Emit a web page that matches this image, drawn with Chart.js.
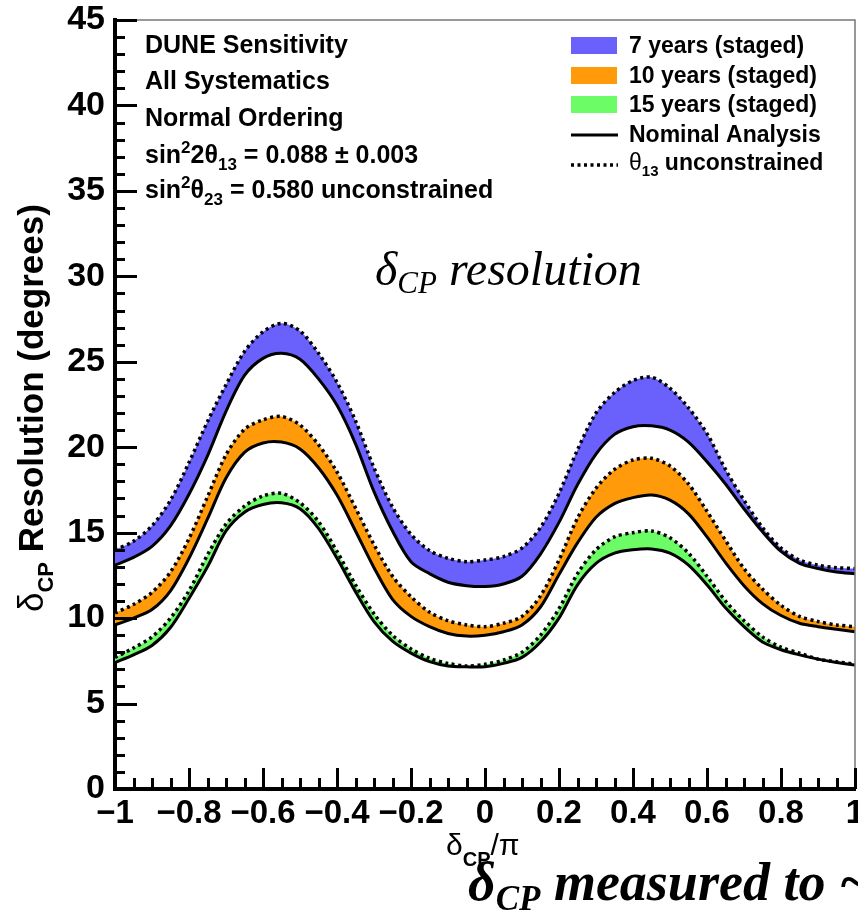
<!DOCTYPE html>
<html>
<head>
<meta charset="utf-8">
<script src="https://cdn.jsdelivr.net/npm/chart.js@4.4.1/dist/chart.umd.min.js"></script>
<style>
  html, body { margin: 0; padding: 0; background: #fff; }
  canvas { display: block; }
</style>
</head>
<body>
<canvas id="chart" width="858" height="913"></canvas>
<script>
// delta_CP / pi sample points, every 0.05
const deltaCP = [-1, -0.95, -0.9, -0.85, -0.8, -0.75, -0.7, -0.65, -0.6, -0.55, -0.5, -0.45, -0.4, -0.35, -0.3, -0.25, -0.2, -0.15, -0.1, -0.05,
    0, 0.05, 0.1, 0.15, 0.2, 0.25, 0.3, 0.35, 0.4, 0.45, 0.5, 0.55, 0.6, 0.65, 0.7, 0.75, 0.8, 0.85, 0.9, 0.95, 1];

// resolution in degrees, nominal analysis (solid)
const nominal7 = [13.1, 13.55, 14.2, 15.4, 17.25, 19.5, 22.1, 24.2, 25.2, 25.5, 25.15, 24.0, 22.45, 20.2, 17.4, 15.1, 13.3, 12.6, 12.1, 11.9,
    11.85, 12.0, 12.45, 13.75, 15.6, 17.8, 19.6, 20.75, 21.2, 21.25, 21.0, 20.3, 19.15, 17.85, 16.4, 15.05, 13.9, 13.2, 12.9, 12.7, 12.6];
const nominal10 = [9.6, 10.0, 10.5, 11.6, 13.5, 15.8, 18.2, 19.7, 20.25, 20.3, 19.9, 18.8, 17.2, 15.1, 12.95, 11.1, 10.1, 9.5, 9.1, 8.95,
    9.0, 9.2, 9.6, 10.65, 12.55, 14.4, 15.9, 16.7, 17.05, 17.2, 16.9, 16.1, 14.75, 13.25, 11.9, 10.85, 10.15, 9.7, 9.5, 9.35, 9.2];
const nominal15 = [7.4, 7.85, 8.4, 9.45, 11.15, 13.0, 15.1, 16.2, 16.65, 16.75, 16.4, 15.25, 13.5, 11.55, 9.8, 8.65, 7.95, 7.45, 7.2, 7.15,
    7.15, 7.35, 7.7, 8.6, 10.0, 11.95, 13.2, 13.8, 14.0, 14.05, 13.8, 13.1, 11.95, 10.6, 9.5, 8.6, 8.15, 7.85, 7.6, 7.4, 7.25];

// theta13 unconstrained (dotted)
const free7 = [14.0, 14.5, 15.4, 16.9, 19.1, 21.5, 23.65, 25.6, 26.75, 27.25, 26.8, 25.5, 23.8, 21.55, 18.8, 16.5, 14.9, 13.95, 13.5, 13.3,
    13.4, 13.6, 14.1, 15.3, 17.3, 19.85, 22.0, 23.2, 23.9, 24.1, 23.45, 22.3, 20.8, 18.7, 16.9, 15.3, 14.1, 13.4, 13.1, 12.95, 12.9];
const free10 = [10.3, 10.8, 11.5, 12.7, 14.65, 17.1, 19.55, 21.05, 21.6, 21.8, 21.3, 20.15, 18.55, 16.45, 14.3, 12.45, 11.25, 10.35, 9.85, 9.6,
    9.5, 9.7, 10.1, 11.3, 13.4, 15.85, 17.6, 18.7, 19.25, 19.35, 18.9, 17.85, 16.25, 14.55, 12.9, 11.7, 10.75, 10.1, 9.8, 9.6, 9.5];
const free15 = [7.7, 8.25, 8.9, 10.0, 11.6, 13.7, 15.5, 16.55, 17.15, 17.3, 16.75, 15.65, 13.9, 11.95, 10.25, 9.0, 8.2, 7.65, 7.35, 7.2,
    7.3, 7.55, 8.0, 9.0, 10.55, 12.6, 14.0, 14.75, 15.0, 15.1, 14.7, 13.8, 12.45, 11.0, 9.85, 8.9, 8.3, 7.95, 7.6, 7.45, 7.3];

const xTicks = [-1, -0.8, -0.6, -0.4, -0.2, 0, 0.2, 0.4, 0.6, 0.8, 1];
const yTicks = [0, 5, 10, 15, 20, 25, 30, 35, 40, 45];

const bandLabels = ['7 years (staged)', '10 years (staged)', '15 years (staged)'];
const bandColors = ['#6a60fc', '#ff9a0a', '#6cfc66'];

const SANS = '"Liberation Sans", Arial, Helvetica, sans-serif';
const SERIF = '"Liberation Serif", "Times New Roman", serif';

const pts = arr => arr.map((y, i) => ({ x: deltaCP[i], y: y }));

const solid = arr => ({
    data: pts(arr),
    borderColor: '#000',
    borderWidth: 3,
    pointRadius: 0,
    tension: 0.3,
    fill: false
});

const dotted = (arr, target, color) => ({
    data: pts(arr),
    borderColor: '#000',
    borderWidth: 3.5,
    borderDash: [3, 3.5],
    pointRadius: 0,
    tension: 0.3,
    fill: target,
    backgroundColor: color
});

// draws a run of text pieces, each with its own font and vertical shift
function drawRun(ctx, parts, x, y) {
    let cx = x;
    parts.forEach(p => {
        ctx.font = p.font;
        ctx.fillText(p.text, cx, y + (p.dy || 0));
        cx += ctx.measureText(p.text).width;
    });
    return cx - x;
}

const decorations = {
    id: 'decorations',
    afterDraw(chart) {
        const ctx = chart.ctx;
        const area = chart.chartArea;
        const xs = chart.scales.x;
        const ys = chart.scales.y;
        ctx.save();

        // top and right frame
        ctx.strokeStyle = '#777';
        ctx.lineWidth = 1.5;
        ctx.beginPath();
        ctx.moveTo(area.left, area.top);
        ctx.lineTo(area.right, area.top);
        ctx.lineTo(area.right, area.bottom);
        ctx.stroke();

        // inward ticks
        ctx.strokeStyle = '#000';
        ctx.lineWidth = 3;
        ctx.beginPath();
        for (let i = 0; i <= 40; i++) {
            const v = -1 + i * 0.05;
            const px = Math.round(xs.getPixelForValue(v)) + 0.5;
            const len = i % 4 === 0 ? 21 : 11;
            ctx.moveTo(px, area.bottom);
            ctx.lineTo(px, area.bottom - len);
        }
        for (let v = 0; v <= 45; v++) {
            const py = Math.round(ys.getPixelForValue(v)) + 0.5;
            const len = v % 5 === 0 ? 22 : 10;
            ctx.moveTo(area.left, py);
            ctx.lineTo(area.left + len, py);
        }
        ctx.stroke();

        ctx.fillStyle = '#000';
        ctx.textBaseline = 'alphabetic';
        ctx.textAlign = 'left';

        // info block
        const B = 'bold 25px ' + SANS;
        const Bs = 'bold 17px ' + SANS;
        ctx.font = B;
        ctx.fillText('DUNE Sensitivity', 145, 53);
        ctx.fillText('All Systematics', 145, 89);
        ctx.fillText('Normal Ordering', 145, 126);
        drawRun(ctx, [
            { text: 'sin', font: B },
            { text: '2', font: Bs, dy: -10 },
            { text: '2\u03b8', font: B },
            { text: '13', font: Bs, dy: 7 },
            { text: ' = 0.088 \u00b1 0.003', font: B }
        ], 145, 163);
        drawRun(ctx, [
            { text: 'sin', font: B },
            { text: '2', font: Bs, dy: -10 },
            { text: '\u03b8', font: B },
            { text: '23', font: Bs, dy: 7 },
            { text: ' = 0.580 unconstrained', font: B }
        ], 145, 198);

        // legend
        const L = 'bold 23px ' + SANS;
        const Ls = 'bold 15px ' + SANS;
        const rows = [53, 83, 112, 142, 170];
        bandLabels.forEach((lbl, i) => {
            ctx.fillStyle = bandColors[i];
            ctx.fillRect(571, rows[i] - 16, 46, 17);
            ctx.fillStyle = '#000';
            ctx.font = L;
            ctx.fillText(lbl, 629, rows[i]);
        });
        ctx.lineWidth = 3;
        ctx.beginPath();
        ctx.moveTo(571, rows[3] - 7);
        ctx.lineTo(618, rows[3] - 7);
        ctx.stroke();
        ctx.setLineDash([3, 3.5]);
        ctx.lineWidth = 3.5;
        ctx.beginPath();
        ctx.moveTo(571, rows[4] - 5);
        ctx.lineTo(618, rows[4] - 5);
        ctx.stroke();
        ctx.setLineDash([]);
        ctx.font = L;
        ctx.fillText('Nominal Analysis', 629, rows[3]);
        drawRun(ctx, [
            { text: '\u03b8', font: '23px ' + SANS },
            { text: '13', font: Ls, dy: 6 },
            { text: ' unconstrained', font: L }
        ], 629, rows[4]);

        // plot label
        const I = 'italic 48px ' + SERIF;
        drawRun(ctx, [
            { text: '\u03b4', font: I },
            { text: 'CP', font: 'italic 31px ' + SERIF, dy: 8 },
            { text: ' resolution', font: I }
        ], 375, 285);

        // x axis title
        drawRun(ctx, [
            { text: '\u03b4', font: '30px ' + SANS },
            { text: 'CP', font: 'bold 20px ' + SANS, dy: 11 },
            { text: '/\u03c0', font: '30px ' + SANS }
        ], 446, 855);

        // y axis title
        ctx.save();
        ctx.translate(43, 612);
        ctx.rotate(-Math.PI / 2);
        drawRun(ctx, [
            { text: '\u03b4', font: '35px ' + SANS },
            { text: 'CP', font: 'bold 22px ' + SANS, dy: 10 },
            { text: ' Resolution (degrees)', font: 'bold 35px ' + SANS }
        ], 0, 0);
        ctx.restore();

        // caption at the bottom
        drawRun(ctx, [
            { text: '\u03b4', font: 'bold italic 54px ' + SERIF },
            { text: 'CP', font: 'bold italic 35px ' + SERIF, dy: 10 },
            { text: ' measured to ~', font: 'bold italic 54px ' + SERIF }
        ], 468, 900);

        ctx.restore();
    }
};

const fmt = v => {
    const n = parseFloat(Number(v).toFixed(1));
    if (n === 0) return '0';
    return n < 0 ? '\u2212' + String(Math.abs(n)) : String(n);
};

new Chart(document.getElementById('chart'), {
    type: 'line',
    data: {
        datasets: [
            solid(nominal7),
            solid(nominal10),
            solid(nominal15),
            dotted(free7, 0, bandColors[0]),
            dotted(free10, 1, bandColors[1]),
            dotted(free15, 2, bandColors[2])
        ]
    },
    options: {
        responsive: false,
        animation: false,
        devicePixelRatio: 1,
        layout: { padding: { top: 20, right: 3, left: 0, bottom: 0 } },
        plugins: {
            legend: { display: false },
            tooltip: { enabled: false },
            title: { display: false }
        },
        scales: {
            x: {
                type: 'linear',
                min: -1,
                max: 1,
                grid: { display: false },
                border: { display: true, color: '#000', width: 4 },
                afterBuildTicks: s => { s.ticks = xTicks.map(v => ({ value: v })); },
                afterFit: s => { s.height = 124; s.paddingLeft = 0; s.paddingRight = 0; },
                ticks: {
                    autoSkip: false,
                    maxRotation: 0,
                    padding: -3,
                    color: '#000',
                    font: { family: SANS, size: 33, weight: 'bold' },
                    callback: fmt
                }
            },
            y: {
                type: 'linear',
                min: 0,
                max: 45,
                grid: { display: false },
                border: { display: true, color: '#000', width: 4 },
                afterBuildTicks: s => { s.ticks = yTicks.map(v => ({ value: v })); },
                afterFit: s => { s.width = 115; s.paddingTop = 0; s.paddingBottom = 0; },
                ticks: {
                    autoSkip: false,
                    padding: 2,
                    color: '#000',
                    font: { family: SANS, size: 34, weight: 'bold' },
                    callback: v => String(v)
                }
            }
        }
    },
    plugins: [decorations]
});
</script>
</body>
</html>
